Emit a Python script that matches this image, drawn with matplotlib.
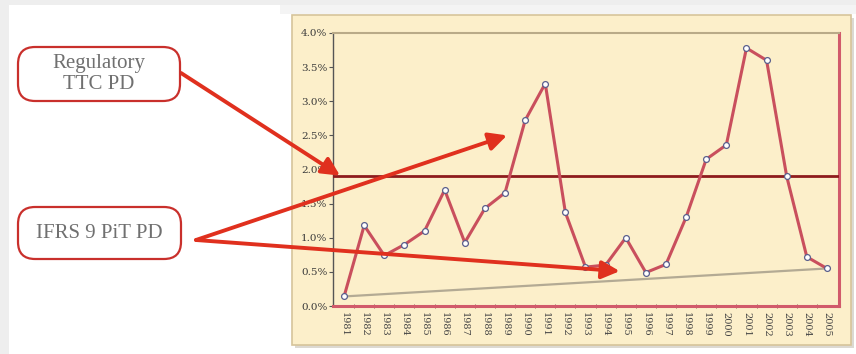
import numpy as np
import matplotlib
matplotlib.use("Agg")
import matplotlib.pyplot as plt
from matplotlib.patches import Rectangle, FancyBboxPatch
from matplotlib.ticker import FuncFormatter, FixedLocator

years = [str(y) for y in range(1981, 2006)]
pit_pd = [0.14, 1.18, 0.74, 0.90, 1.10, 1.70, 0.93, 1.43, 1.66, 2.72,
          3.26, 1.37, 0.57, 0.60, 1.00, 0.49, 0.61, 1.30, 2.15, 2.36,
          3.78, 3.60, 1.90, 0.72, 0.55]          # % per year
ttc_pd = 1.91                                    # regulatory through-the-cycle PD, %
yticks = [0.0, 0.5, 1.0, 1.5, 2.0, 2.5, 3.0, 3.5, 4.0]

W, H = 856, 354
CREAM = "#fcefca"
ARROW = "#e0301e"


def px(x, y):
    """pixel position (top-left origin) -> figure fraction"""
    return x / W, 1 - y / H


fig = plt.figure(figsize=(W / 100, H / 100), dpi=100)
fig.patch.set_facecolor("white")

# page frame: grey strips top and left
fig.add_artist(Rectangle((0, 0), 9 / W, 1, transform=fig.transFigure,
                         facecolor="#eeeeee", edgecolor="none", zorder=0))
fig.add_artist(Rectangle(px(0, 5), 1, 5 / H, transform=fig.transFigure,
                         facecolor="#eeeeee", edgecolor="none", zorder=0))
fig.add_artist(Rectangle(px(280, 14), 1, 9 / H, transform=fig.transFigure,
                         facecolor="#f4f4f4", edgecolor="none", zorder=0))

# cream chart card with a soft shadow
fig.add_artist(Rectangle(px(295, 348), 559 / W, 330 / H, transform=fig.transFigure,
                         facecolor="#dcd9d2", edgecolor="none", zorder=0.5))
fig.add_artist(Rectangle(px(292, 345), 559 / W, 330 / H, transform=fig.transFigure,
                         facecolor=CREAM, edgecolor="#d6c49a", lw=1.2, zorder=0.6))

x0, y0 = px(333, 306)
x1, y1 = px(839, 33)
ax = fig.add_axes([x0, y0, x1 - x0, y1 - y0])
ax.set_facecolor(CREAM)
ax.set_zorder(1)

idx = np.arange(len(years))
pd_arr = np.array(pit_pd)

# grey line joining first and last PiT observation
ax.plot([idx[0], idx[-1]], [pd_arr[0], pd_arr[-1]], color="#b3aa94", lw=1.6, zorder=2)
ax.axhline(ttc_pd, color="#8e1b1d", lw=2.0, zorder=3)
ax.plot(idx, pd_arr, color="#c94f5d", lw=2.2, zorder=4,
        marker="o", ms=4.2, mfc="white", mec="#5a5f8c", mew=0.9)

ax.set_xlim(-0.55, 24.6)
ax.set_ylim(0, 4.0)
ax.set_yticks(yticks)
ax.yaxis.set_major_formatter(FuncFormatter(lambda v, p: f"{v:.1f}%"))
ax.set_xticks(idx)
ax.set_xticklabels(years, rotation=-90, fontsize=7, family="DejaVu Serif", color="#444444")
ax.xaxis.set_minor_locator(FixedLocator(idx[:-1] + 0.5))
ax.tick_params(axis="x", which="major", length=0, pad=4)
ax.tick_params(axis="x", which="minor", length=3, color="#7a4a4a", direction="inout")
ax.tick_params(axis="y", length=3, color="#555555", labelsize=7.5, pad=1, labelcolor="#3a3a3a")
for lab in ax.get_yticklabels():
    lab.set_family("DejaVu Serif")

ax.spines["left"].set_color("#555555")
ax.spines["left"].set_linewidth(1.0)
ax.spines["top"].set_color("#b9aa88")
ax.spines["top"].set_linewidth(1.5)
ax.spines["right"].set_color("#d15a6b")
ax.spines["right"].set_linewidth(2.2)
ax.spines["bottom"].set_color("#d15a6b")
ax.spines["bottom"].set_linewidth(2.2)

# callout boxes
for (bx, by, bw, bh, txt) in [(18, 101, 162, 54, "Regulatory\nTTC PD"),
                               (18, 259, 163, 52, "IFRS 9 PiT PD")]:
    fx, fy = px(bx, by)
    fig.add_artist(FancyBboxPatch((fx, fy), bw / W, bh / H, transform=fig.transFigure,
                                  boxstyle="round,pad=0,rounding_size=0.02",
                                  facecolor="white", edgecolor="#c9302c", lw=1.6, zorder=2,
                                  mutation_aspect=W / H))
    fig.text(fx + bw / W / 2, fy + bh / H / 2, txt, ha="center", va="center",
             family="Liberation Serif", fontsize=15, color="#707070",
             linespacing=1.12, zorder=3)

# red pointer arrows
aprops = dict(arrowstyle="-|>,head_length=0.9,head_width=0.45", color=ARROW,
              lw=2.8, mutation_scale=12, shrinkA=0, shrinkB=0)
ax.annotate("", xy=(-0.2, ttc_pd), xycoords="data", xytext=px(181, 73),
            textcoords="figure fraction", arrowprops=aprops, annotation_clip=False, zorder=10)
ax.annotate("", xy=(8.1, 2.50), xycoords="data", xytext=px(196, 240),
            textcoords="figure fraction", arrowprops=aprops, annotation_clip=False, zorder=10)
ax.annotate("", xy=(13.7, 0.51), xycoords="data", xytext=px(196, 240),
            textcoords="figure fraction", arrowprops=aprops, annotation_clip=False, zorder=10)

fig.savefig("out.png", dpi=100)
